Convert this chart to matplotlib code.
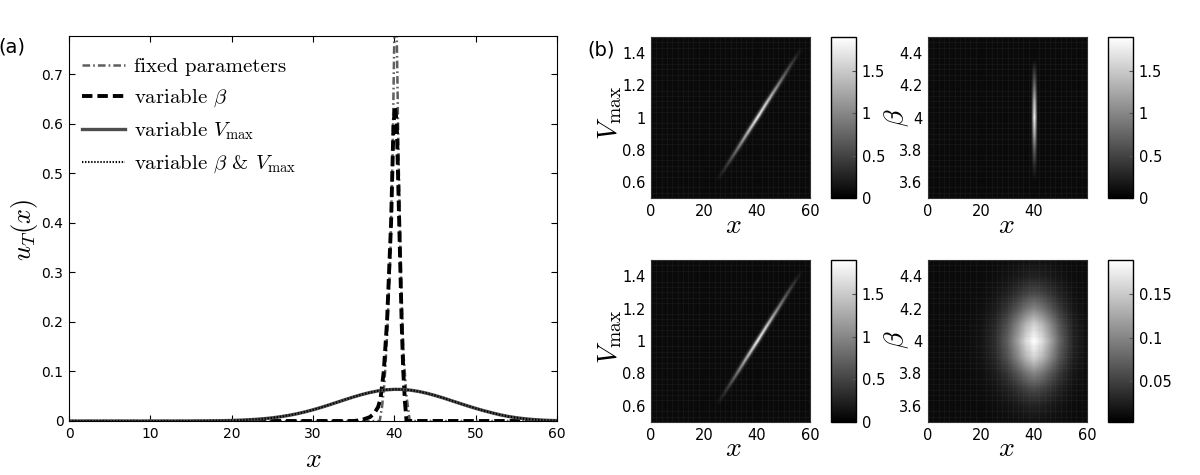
import numpy as np
import matplotlib
matplotlib.use("Agg")
import matplotlib.pyplot as plt
from matplotlib.ticker import FormatStrFormatter

plt.rcParams['mathtext.fontset'] = 'cm'
plt.rcParams['lines.scale_dashes'] = False
plt.rcParams['font.family'] = ['DejaVu Sans']

# ---------------- panel (a) data ----------------
x_fixed = [0, 38.2, 38.5, 38.8, 39.1, 39.5, 39.8, 40.0, 40.15, 40.3, 40.5, 40.8, 41.1, 41.5, 41.9, 60]
y_fixed = [0, 0.0, 0.03, 0.08, 0.17, 0.33, 0.55, 0.78, 0.95, 0.78, 0.55, 0.30, 0.14, 0.05, 0.0, 0.0]

x_beta = [21, 35.0, 36.0, 37.0, 37.5, 38.0, 38.3, 38.7, 39.1, 39.6, 39.9, 40.1, 40.3, 40.6, 40.9, 41.1, 41.3, 41.5, 60]
y_beta = [0, 0.0, 0.002, 0.008, 0.015, 0.028, 0.045, 0.10, 0.20, 0.40, 0.60, 0.635, 0.60, 0.40, 0.20, 0.10, 0.04, 0.0, 0.0]

x_vmax = list(range(0, 61))
y_vmax = [0, 0, 0, 0, 0, 0, 0, 0, 0, 0,
          0, 0, 0, 0, 0, 0.0001, 0.0002, 0.0003, 0.0005, 0.0007,
          0.0011, 0.0017, 0.0024, 0.0034, 0.0047, 0.0064, 0.0086, 0.0113, 0.0145, 0.0183,
          0.0226, 0.0274, 0.0326, 0.0380, 0.0434, 0.0486, 0.0534, 0.0575, 0.0608, 0.0629,
          0.0639, 0.0637, 0.0622, 0.0596, 0.0560, 0.0515, 0.0466, 0.0412, 0.0358, 0.0305,
          0.0255, 0.0208, 0.0165, 0.0125, 0.0092, 0.0066, 0.0046, 0.0031, 0.0020, 0.0012,
          0.0008]
x_both = list(range(0, 61))
y_both = [0, 0, 0, 0, 0, 0, 0, 0, 0, 0,
          0, 0, 0, 0, 0, 0.0001, 0.0002, 0.0003, 0.0005, 0.0007,
          0.0011, 0.0017, 0.0024, 0.0034, 0.0047, 0.0064, 0.0086, 0.0113, 0.0145, 0.0183,
          0.0226, 0.0274, 0.0326, 0.0380, 0.0434, 0.0486, 0.0534, 0.0575, 0.0608, 0.0629,
          0.0639, 0.0637, 0.0622, 0.0596, 0.0560, 0.0515, 0.0466, 0.0412, 0.0358, 0.0305,
          0.0255, 0.0208, 0.0165, 0.0125, 0.0092, 0.0066, 0.0046, 0.0031, 0.0020, 0.0012,
          0.0008]

labels = ['fixed parameters', r'variable $\beta$', r'variable $V_{\max}$', r'variable $\beta$ & $V_{\max}$']
a_xticks = [0, 10, 20, 30, 40, 50, 60]
a_yticks = [0, 0.1, 0.2, 0.3, 0.4, 0.5, 0.6, 0.7]

# ---------------- panel (b) data ----------------
# diagonal ridge (x vs V_max)
ridge_v = [0.60, 0.70, 0.80, 0.90, 1.00, 1.10, 1.20, 1.30, 1.40, 1.44]
ridge_x = [24.8, 28.6, 32.5, 36.3, 40.2, 44.0, 47.9, 51.7, 55.6, 57.1]
ridge_amp = [0.0, 0.35, 0.85, 1.4, 1.85, 1.6, 1.05, 0.55, 0.15, 0.0]
ridge_off = [-1.8, -1.0, -0.5, 0, 0.5, 1.0, 1.8]
ridge_w = [0, 0.15, 0.6, 1, 0.6, 0.15, 0]
# vertical streak (x vs beta)
streak_b = [3.60, 3.70, 3.80, 3.90, 4.00, 4.10, 4.20, 4.30, 4.36]
streak_amp = [0.0, 0.25, 0.7, 1.35, 1.85, 1.45, 0.8, 0.3, 0.0]
streak_xc = 40.2
streak_off = [-1.2, -0.6, 0, 0.6, 1.2]
streak_w = [0, 0.5, 1, 0.5, 0]
# blob (x vs beta)
blob_x = [0, 15, 20, 25, 30, 34, 37, 40, 43, 46, 50, 55, 60]
blob_xw = [0, 0.01, 0.04, 0.13, 0.35, 0.62, 0.85, 1.0, 0.87, 0.65, 0.35, 0.1, 0.02]
blob_b = [3.5, 3.6, 3.7, 3.8, 3.9, 4.0, 4.1, 4.2, 4.3, 4.4, 4.5]
blob_bw = [0.03, 0.1, 0.25, 0.5, 0.83, 1.0, 0.83, 0.5, 0.25, 0.1, 0.03]
blob_peak = 0.18
floor_top = 0.08
floor_blob = 0.01

v_ticks = [0.6, 0.8, 1.0, 1.2, 1.4]
b_ticks = [3.6, 3.8, 4.0, 4.2, 4.4]
cb_ticks_big = [0, 0.5, 1, 1.5]
cb_ticks_small = [0.05, 0.1, 0.15]

# ---------------- figure ----------------
W, H = 1200, 475
fig = plt.figure(figsize=(12, 4.75), dpi=100)


def box(x0, y0, x1, y1):
    return [x0 / W, 1 - y1 / H, (x1 - x0) / W, (y1 - y0) / H]


ax = fig.add_axes(box(69, 36, 557, 421))
ax.plot(x_fixed, y_fixed, color='#5f5f5f', lw=1.8, linestyle=(0, (5.5, 2.2, 1.2, 2.2)), label=labels[0])
ax.plot(x_beta, y_beta, color='black', lw=2.8, linestyle=(0, (7.5, 3.6)), label=labels[1])
ax.plot(x_vmax, y_vmax, color='#4d4d4d', lw=2.4, label=labels[2])
ax.plot(x_both, y_both, color='black', lw=1.5, linestyle=(0, (1.0, 1.2)), label=labels[3])
ax.set_xlim(0, 60)
ax.set_ylim(0, 0.777)
ax.set_xticks(a_xticks)
ax.set_yticks(a_yticks)
ax.yaxis.set_major_formatter(FormatStrFormatter('%g'))
ax.tick_params(direction='in', top=True, right=True, length=4, labelsize=10, pad=4)
leg = ax.legend(loc='upper left', bbox_to_anchor=(0.0, 1 - 9 / 385), frameon=False,
                prop={'family': 'cmr10', 'size': 15},
                handlelength=2.1, handletextpad=0.4, borderaxespad=0.3, borderpad=0.3,
                labelspacing=0.55)
fig.text(25 / W, 1 - 230 / H, r'$u_T(x)$', fontsize=19, rotation=90, ha='center', va='center')
fig.text(313 / W, 1 - 459 / H, r'$x$', fontsize=20, ha='center', va='center')
fig.text(12 / W, 1 - 47 / H, '(a)', fontsize=14, ha='center', va='center')
fig.text(601 / W, 1 - 50 / H, '(b)', fontsize=14, ha='center', va='center')

# build images
nx, ny = 300, 240


def ridge_image():
    xx = np.linspace(0, 60, nx)
    vv = np.linspace(0.5, 1.5, ny)
    img = np.full((ny, nx), floor_top)
    for i, v in enumerate(vv):
        amp = np.interp(v, ridge_v, ridge_amp, left=0, right=0)
        xc = np.interp(v, ridge_v, ridge_x)
        img[i] += amp * np.interp(xx - xc, ridge_off, ridge_w, left=0, right=0)
    return img


def streak_image():
    xx = np.linspace(0, 60, nx)
    bb = np.linspace(3.5, 4.5, ny)
    img = np.full((ny, nx), floor_top)
    prof = np.interp(xx - streak_xc, streak_off, streak_w, left=0, right=0)
    for i, b in enumerate(bb):
        amp = np.interp(b, streak_b, streak_amp, left=0, right=0)
        img[i] += amp * prof
    return img


def blob_image():
    xx = np.linspace(0, 60, nx)
    bb = np.linspace(3.5, 4.5, ny)
    px = np.interp(xx, blob_x, blob_xw)
    pb = np.interp(bb, blob_b, blob_bw)
    return floor_blob + blob_peak * np.outer(pb, px)


panels = [
    (box(651, 37, 810, 198), box(831, 37, 856, 198), ridge_image(), (0, 60, 0.5, 1.5), v_ticks,
     r'$V_{\max}$', (610, 113), (733, 225), 0, 1.9, cb_ticks_big, [0, 20, 40, 60]),
    (box(928, 37, 1087, 198), box(1108, 37, 1133, 198), streak_image(), (0, 59.6, 3.5, 4.5), b_ticks,
     r'$\beta$', (897, 118), (1006, 225), 0, 1.9, cb_ticks_big, [0, 20, 40]),
    (box(651, 260, 810, 422), box(831, 260, 856, 422), ridge_image(), (0, 60, 0.5, 1.5), v_ticks,
     r'$V_{\max}$', (610, 337), (733, 448), 0, 1.9, cb_ticks_big, [0, 20, 40, 60]),
    (box(928, 260, 1087, 422), box(1108, 260, 1133, 422), blob_image(), (0, 60, 3.5, 4.5), b_ticks,
     r'$\beta$', (897, 340), (1006, 448), 0.002, 0.19, cb_ticks_small, [0, 20, 40, 60]),
]

for (rect, crect, img, ext, yt, ylab, ylpos, xlpos, vmin, vmax, cbt, xt) in panels:
    a = fig.add_axes(rect)
    im = a.imshow(img, extent=(0, 60, ext[2], ext[3]), origin='lower', aspect='auto',
                  cmap='gray', vmin=vmin, vmax=vmax, interpolation='bilinear')
    a.set_xlim(ext[0], ext[1])
    a.set_ylim(ext[2], ext[3])
    a.set_xticks(xt)
    a.set_yticks(yt)
    a.yaxis.set_major_formatter(FormatStrFormatter('%g'))
    a.set_xticks(np.linspace(0, 60, 31), minor=True)
    a.set_yticks(np.linspace(ext[2], ext[3], 31), minor=True)
    a.grid(which='minor', color='#9a9a9a', alpha=0.09, lw=0.5)
    a.tick_params(which='both', length=0, labelsize=10.5, pad=4)
    for s in a.spines.values():
        s.set_color('#333333')
    fig.text(ylpos[0] / W, 1 - ylpos[1] / H, ylab, fontsize=20, rotation=90, ha='center', va='center')
    fig.text(xlpos[0] / W, 1 - xlpos[1] / H, r'$x$', fontsize=20, ha='center', va='center')
    cax = fig.add_axes(crect)
    cb = fig.colorbar(im, cax=cax, ticks=cbt, format='%g')
    cb.ax.tick_params(direction='in', length=3, color='#555555', labelsize=10.5, pad=4)
    cb.outline.set_linewidth(1)

fig.savefig('out.png', dpi=100)
